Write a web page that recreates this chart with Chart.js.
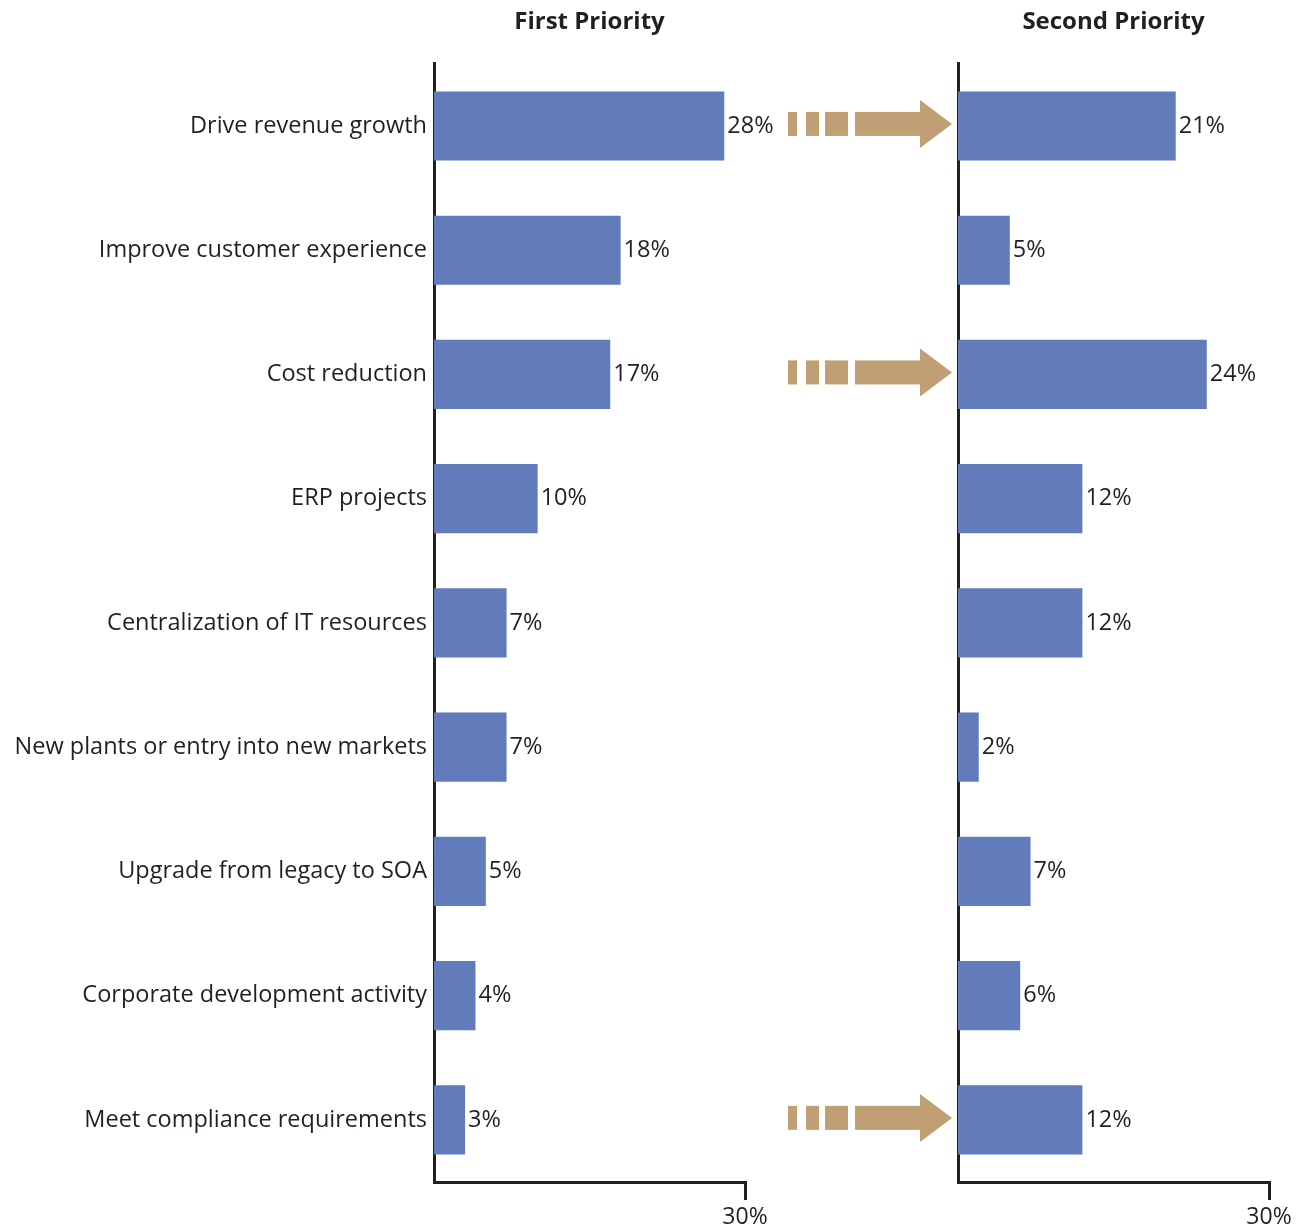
<!DOCTYPE html>
<html><head><meta charset="utf-8">
<script src="https://cdn.jsdelivr.net/npm/chart.js@4/dist/chart.umd.min.js"></script>
<style>
html,body{margin:0;padding:0;background:#fff;}
#wrap{position:relative;width:1309px;height:1230px;}
#left{position:absolute;left:0;top:0;width:780px;height:1230px;}
#right{position:absolute;left:780px;top:0;width:529px;height:1230px;}
</style></head><body>
<div id="wrap"><div id="left"><canvas id="c1"></canvas></div><div id="right"><canvas id="c2"></canvas></div></div>
<script>
const categories = [
  'Drive revenue growth',
  'Improve customer experience',
  'Cost reduction',
  'ERP projects',
  'Centralization of IT resources',
  'New plants or entry into new markets',
  'Upgrade from legacy to SOA',
  'Corporate development activity',
  'Meet compliance requirements'
];
const firstPriority = [28, 18, 17, 10, 7, 7, 5, 4, 3];
const secondPriority = [21, 5, 24, 12, 12, 2, 7, 6, 12];
const axisTicks = [30];
const arrowCategories = ['Drive revenue growth', 'Cost reduction', 'Meet compliance requirements'];
const titles = ['First Priority', 'Second Priority'];

const barColor = '#627BBA';
const textColor = '#231F20';
const arrowColor = '#BF9F73';
const FONT = '"Open Sans", sans-serif';
Chart.defaults.font.family = FONT;
Chart.defaults.color = textColor;

const valueLabels = {
  id: 'valueLabels',
  afterDatasetsDraw(chart) {
    const ctx = chart.ctx;
    const meta = chart.getDatasetMeta(0);
    const data = chart.data.datasets[0].data;
    ctx.save();
    ctx.font = '23.5px ' + FONT;
    ctx.fillStyle = textColor;
    ctx.textAlign = 'left';
    ctx.textBaseline = 'middle';
    meta.data.forEach((bar, i) => {
      ctx.fillText(data[i] + '%', bar.x + 3, bar.y);
    });
    ctx.restore();
  }
};

const arrows = {
  id: 'arrows',
  afterDatasetsDraw(chart) {
    const ctx = chart.ctx;
    const ys = chart.scales.y;
    const x0 = chart.chartArea.left - 170;
    ctx.save();
    ctx.fillStyle = arrowColor;
    arrowCategories.forEach(cat => {
      const idx = categories.indexOf(cat);
      const cy = ys.getPixelForValue(idx) - 2;
      ctx.fillRect(x0, cy - 12, 9, 24);
      ctx.fillRect(x0 + 18, cy - 12, 13, 24);
      ctx.fillRect(x0 + 37, cy - 12, 23, 24);
      ctx.fillRect(x0 + 67, cy - 12, 66, 24);
      ctx.beginPath();
      ctx.moveTo(x0 + 132, cy - 24);
      ctx.lineTo(x0 + 164, cy);
      ctx.lineTo(x0 + 132, cy + 24);
      ctx.closePath();
      ctx.fill();
    });
    ctx.restore();
  }
};

function makeChart(id, values, title, yWidth, showLabels, padRight, extraPlugins) {
  return new Chart(document.getElementById(id), {
    type: 'bar',
    data: {
      labels: categories,
      datasets: [{
        data: values,
        backgroundColor: barColor,
        borderWidth: 0,
        barPercentage: 0.556,
        categoryPercentage: 1.0
      }]
    },
    options: {
      indexAxis: 'y',
      responsive: true,
      maintainAspectRatio: false,
      animation: false,
      layout: { padding: { left: 0, right: padRight, top: 0, bottom: 0 } },
      plugins: {
        legend: { display: false },
        tooltip: { enabled: false },
        title: {
          display: true,
          text: title,
          fullSize: false,
          color: textColor,
          font: { size: 24, weight: 'bold', family: FONT },
          padding: { top: 8, bottom: 27 }
        }
      },
      scales: {
        y: {
          grid: { display: false },
          border: { display: true, color: textColor, width: 3 },
          ticks: {
            display: showLabels,
            color: textColor,
            font: { size: 23.5, family: FONT },
            padding: -1
          },
          afterFit(scale) { scale.width = yWidth; }
        },
        x: {
          min: 0,
          max: 30,
          afterBuildTicks(scale) { scale.ticks = axisTicks.map(v => ({ value: v })); },
          grid: {
            display: true,
            drawOnChartArea: false,
            drawTicks: true,
            tickLength: 18,
            color: textColor,
            lineWidth: 3
          },
          border: { display: true, color: textColor, width: 3 },
          ticks: {
            color: textColor,
            font: { size: 23, family: FONT },
            padding: 4,
            maxRotation: 0,
            callback: v => v + '%'
          },
          afterFit(scale) { scale.height = 48; }
        }
      }
    },
    plugins: [valueLabels].concat(extraPlugins)
  });
}

makeChart('c1', firstPriority, titles[0], 434, true, 35, []);
makeChart('c2', secondPriority, titles[1], 178, false, 40, [arrows]);
</script>
</body></html>
